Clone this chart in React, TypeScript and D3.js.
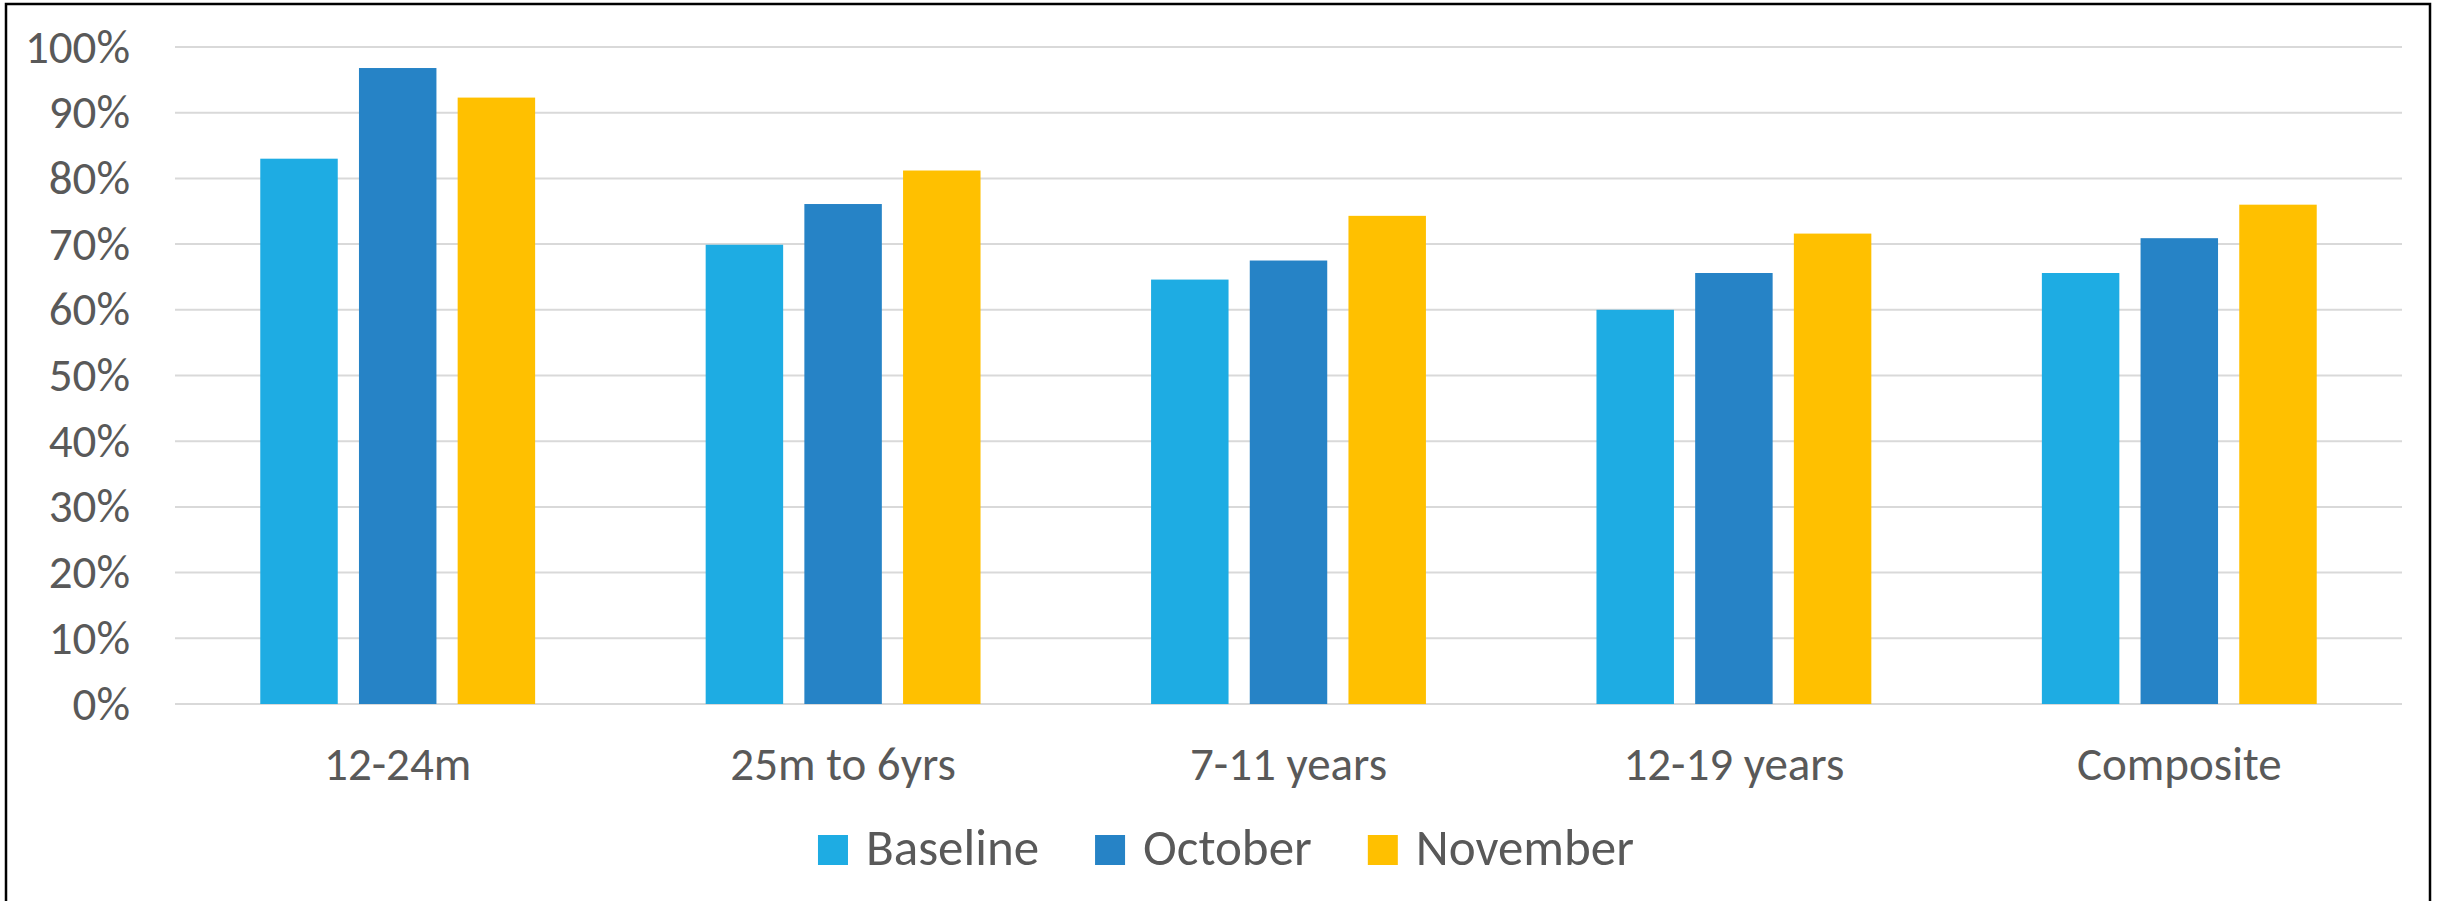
import * as d3 from "d3";
import { useEffect, useRef } from "react";

const categories = ["12-24m", "25m to 6yrs", "7-11 years", "12-19 years", "Composite"];
const seriesNames = ["Baseline", "October", "November"];
const baseline = [83.0, 69.9, 64.6, 60.0, 65.6];
const october = [96.8, 76.1, 67.5, 65.6, 70.9];
const november = [92.3, 81.2, 74.3, 71.6, 76.0];
const yTicks = [0, 10, 20, 30, 40, 50, 60, 70, 80, 90, 100];

const colors = ["#1EACE3", "#2683C6", "#FFC000"];
const textColor = "#595959";
const fontFamily = "Calibri, Carlito, 'Liberation Sans', Arial, sans-serif";

const App = () => {
    const width = 2443;
    const height = 901;
    const marginLeft = 175;
    const marginRight = 41;
    const marginTop = 47;
    const marginBottom = 197;

    const gx = useRef<SVGGElement | null>(null);
    const gy = useRef<SVGGElement | null>(null);
    const legendRef = useRef<SVGGElement | null>(null);

    const values = [baseline, october, november];

    const x0 = d3.scaleBand().domain(categories).range([marginLeft, width - marginRight]).paddingInner(0).paddingOuter(0);
    const x1 = d3.scaleBand().domain(seriesNames).range([0, x0.bandwidth()]).paddingInner(0.215).paddingOuter(0.864);
    const y = d3.scaleLinear().domain([0, 100]).range([height - marginBottom, marginTop]);

    useEffect(() => {
        d3.select(gy.current)
            .call(d3.axisLeft(y).tickValues(yTicks).tickSize(0).tickPadding(45).tickFormat(d => `${d}%`))
            .call(g => g.select(".domain").remove())
            .attr("font-family", fontFamily)
            .attr("font-size", 47)
            .call(g => g.selectAll(".tick text").attr("fill", textColor));
        d3.select(gx.current)
            .call(d3.axisBottom(x0).tickSize(0).tickPadding(43))
            .call(g => g.select(".domain").remove())
            .attr("font-family", fontFamily)
            .attr("font-size", 47)
            .call(g => g.selectAll(".tick text").attr("fill", textColor));

        // legend: lay out items by measured text width, centred on the frame
        const lg = d3.select(legendRef.current);
        lg.selectAll("*").remove();
        const swatch = 30;
        const gapText = 18;
        const gapItem = 56;
        const items = lg.selectAll("g").data(seriesNames).join("g");
        items.append("rect").attr("width", swatch).attr("height", swatch).attr("y", -swatch).attr("fill", (d, i) => colors[i]);
        items.append("text")
            .attr("x", swatch + gapText)
            .attr("font-family", fontFamily)
            .attr("font-size", 51)
            .attr("fill", textColor)
            .text(d => d);
        let cx = 0;
        const widths: number[] = [];
        items.each(function () {
            const t = (this as SVGGElement).querySelector("text") as SVGTextElement;
            widths.push(swatch + gapText + t.getComputedTextLength());
        });
        const total = d3.sum(widths) + gapItem * (widths.length - 1);
        const start = 1226 - total / 2;
        items.attr("transform", (d, i) => {
            const tx = start + cx;
            cx += widths[i] + gapItem;
            return `translate(${tx},865)`;
        });
    }, []);

    return (
        <svg width={width} height={height} style={{ position: "absolute", left: 0, top: 0, background: "#fff" }}>
            <rect x={0} y={0} width={width} height={height} fill="#fff" />
            <g>
                {yTicks.map(t => (
                    <line key={t} x1={marginLeft} x2={width - marginRight} y1={y(t)} y2={y(t)} stroke="#D9D9D9" strokeWidth={2} />
                ))}
            </g>
            {categories.map((c, ci) => (
                <g key={c} transform={`translate(${x0(c)},0)`}>
                    {seriesNames.map((s, si) => (
                        <rect
                            key={s}
                            x={x1(s)}
                            y={y(values[si][ci])}
                            width={x1.bandwidth()}
                            height={y(0) - y(values[si][ci])}
                            fill={colors[si]}
                        />
                    ))}
                </g>
            ))}
            <g ref={gy} transform={`translate(${marginLeft},0)`} />
            <g ref={gx} transform={`translate(0,${height - marginBottom})`} />
            <g ref={legendRef} />
            <rect x={6} y={4} width={2424} height={910} fill="none" stroke="#000" strokeWidth={2.5} />
        </svg>
    );
};

export default App;
